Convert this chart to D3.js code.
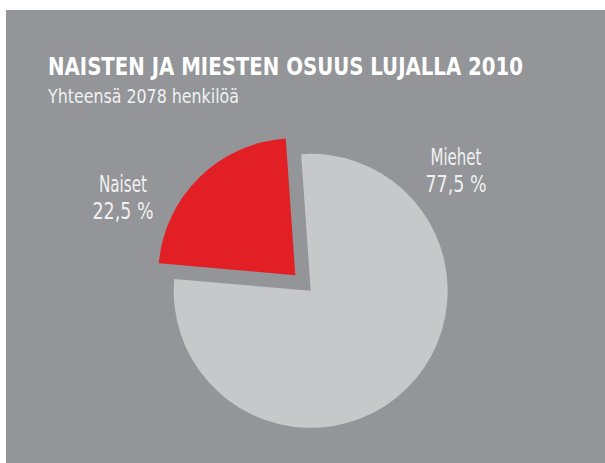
<!DOCTYPE html>
<html lang="fi">
<head>
    <meta charset="UTF-8">
    <title>Naisten ja miesten osuus</title>
    <script src="https://d3js.org/d3.v7.min.js"></script>
    <style>
        body { margin: 0; background: #fff; }
        .title {
            font-family: "Liberation Sans Narrow", "DejaVu Sans Condensed", sans-serif;
            font-weight: bold;
            font-size: 25px;
            fill: #fff;
        }
        .subtitle, .slice-label {
            font-family: "Liberation Sans Narrow", "DejaVu Sans Condensed", sans-serif;
            fill: #f1f1f2;
        }
        .subtitle { font-size: 19px; }
        .slice-label { font-size: 23px; text-anchor: middle; }
    </style>
</head>
<body>
    <script>
        const categories = ['Miehet', 'Naiset'];
        const shares = [77.5, 22.5];
        const shareLabels = ['77,5 %', '22,5 %'];
        const colors = ['#c7c8ca', '#e31f26'];

        const svg = d3.select('body').append('svg')
            .attr('width', 605)
            .attr('height', 463);

        svg.append('rect')
            .attr('x', 6)
            .attr('y', 10)
            .attr('width', 599)
            .attr('height', 453)
            .attr('fill', '#939598');

        svg.append('text')
            .attr('class', 'title')
            .attr('x', 48)
            .attr('y', 75)
            .attr('textLength', 475)
            .attr('lengthAdjust', 'spacingAndGlyphs')
            .text('NAISTEN JA MIESTEN OSUUS LUJALLA 2010');

        svg.append('text')
            .attr('class', 'subtitle')
            .attr('x', 48)
            .attr('y', 103)
            .attr('textLength', 191)
            .attr('lengthAdjust', 'spacingAndGlyphs')
            .text('Yhteensä 2078 henkilöä');

        const data = categories.map((c, i) => ({ name: c, value: shares[i], label: shareLabels[i], color: colors[i] }));

        const start = -4 * Math.PI / 180;
        const pie = d3.pie()
            .sort(null)
            .value(d => d.value)
            .startAngle(start)
            .endAngle(start + 2 * Math.PI);

        const radius = 137;
        const explode = 11;
        const arc = d3.arc().innerRadius(0).outerRadius(radius);

        const g = svg.append('g')
            .attr('transform', 'translate(303,283)');

        g.selectAll('path')
            .data(pie(data))
            .join('path')
            .attr('fill', d => d.data.color)
            .attr('transform', d => {
                const mid = (d.startAngle + d.endAngle) / 2;
                return `translate(${Math.sin(mid) * explode},${-Math.cos(mid) * explode})`;
            })
            .attr('d', arc);

        // labels placed outside the slices
        const labelPos = { Naiset: [123, 192], Miehet: [456, 165] };
        const nameWidth = { Naiset: 48, Miehet: 51 };

        data.forEach(d => {
            const [x, y] = labelPos[d.name];
            svg.append('text')
                .attr('class', 'slice-label')
                .attr('x', x)
                .attr('y', y)
                .attr('textLength', nameWidth[d.name])
                .attr('lengthAdjust', 'spacingAndGlyphs')
                .text(d.name);
            svg.append('text')
                .attr('class', 'slice-label')
                .attr('x', x)
                .attr('y', y + 27)
                .attr('textLength', 61)
                .attr('lengthAdjust', 'spacingAndGlyphs')
                .text(d.label);
        });
    </script>
</body>
</html>
